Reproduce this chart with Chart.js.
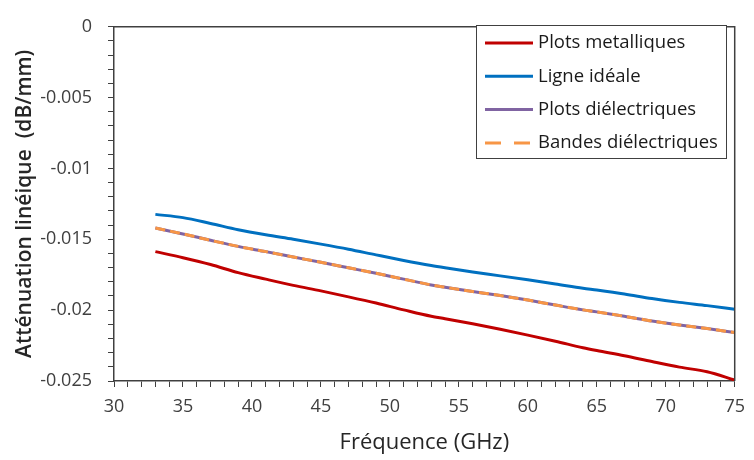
<!DOCTYPE html>
<html>
<head>
<meta charset="utf-8">
<script src="https://cdn.jsdelivr.net/npm/chart.js@4"></script>
<style>
    body { margin: 0; background: #fff; }
    #wrap { width: 754px; height: 460px; }
</style>
</head>
<body>
<div id="wrap"><canvas id="attChart" width="754" height="460"></canvas></div>
<script>
// Fréquence (GHz)
const freqs = [33, 35, 37, 39, 41, 43, 45, 47, 49, 51, 53, 54, 56, 58, 60, 62, 64, 65, 67, 69, 71, 73, 75];

// Atténuation linéique (dB/mm)
const plotsMetal = [-0.01587, -0.0163, -0.01678, -0.01735, -0.01781, -0.01825, -0.01864, -0.01906, -0.0195, -0.01998, -0.02043, -0.0206,
    -0.02096, -0.02135, -0.02176, -0.02219, -0.02265, -0.02285, -0.02322, -0.02363, -0.02402, -0.02435, -0.02493];
const ligneIdeale = [-0.01324, -0.01347, -0.01388, -0.01432, -0.01468, -0.015, -0.01534, -0.0157, -0.0161, -0.01649, -0.01685, -0.01701,
    -0.01731, -0.01758, -0.01786, -0.01815, -0.01845, -0.01858, -0.01886, -0.01918, -0.01945, -0.01968, -0.01993];
const plotsDiel = [-0.0142, -0.01462, -0.01507, -0.0155, -0.01587, -0.01625, -0.01662, -0.01701, -0.0174, -0.01781, -0.01822, -0.01838,
    -0.01868, -0.01897, -0.01929, -0.01964, -0.01998, -0.02012, -0.02043, -0.02077, -0.02105, -0.0213, -0.02158];
const bandesDiel = [-0.0142, -0.01462, -0.01507, -0.0155, -0.01587, -0.01625, -0.01662, -0.01701, -0.0174, -0.01781, -0.01822, -0.01838,
    -0.01868, -0.01897, -0.01929, -0.01964, -0.01998, -0.02012, -0.02043, -0.02077, -0.02105, -0.0213, -0.02158];

const xMin = 30, xMax = 75;
const yMin = -0.025, yMax = 0;

const FONT = "'Open Sans', sans-serif";
const AXIS_COLOR = '#404040';

function toPoints(values) {
    return values.map((v, i) => ({ x: freqs[i], y: v }));
}

// cadre du graphe + légende dessinée à la main (dans la zone de tracé)
const frameAndLegend = {
    id: 'frameAndLegend',
    afterDraw(chart) {
        const { ctx, chartArea } = chart;
        ctx.save();
        ctx.strokeStyle = AXIS_COLOR;
        ctx.lineWidth = 1.5;
        ctx.beginPath();
        ctx.moveTo(chartArea.left, chartArea.top);
        ctx.lineTo(chartArea.right, chartArea.top);
        ctx.lineTo(chartArea.right, chartArea.bottom);
        ctx.stroke();

        // légende
        const box = { x: 476, y: 25, w: 250, h: 133 };
        ctx.fillStyle = '#fff';
        ctx.fillRect(box.x, box.y, box.w, box.h);
        ctx.strokeStyle = '#404040';
        ctx.lineWidth = 1;
        ctx.strokeRect(box.x + 0.5, box.y + 0.5, box.w, box.h);

        ctx.font = '18.5px ' + FONT;
        ctx.textBaseline = 'middle';
        chart.data.datasets.forEach((ds, i) => {
            const y = 43 + i * 33.3;
            ctx.strokeStyle = ds.borderColor;
            ctx.lineWidth = 3;
            ctx.setLineDash(ds.borderDash && ds.borderDash.length ? [16, 13] : []);
            ctx.beginPath();
            ctx.moveTo(485, y);
            ctx.lineTo(533, y);
            ctx.stroke();
            ctx.setLineDash([]);
            ctx.fillStyle = '#1a1a1a';
            ctx.fillText(ds.label, 538, y);
        });
        ctx.restore();
    }
};

new Chart(document.getElementById('attChart').getContext('2d'), {
    type: 'line',
    data: {
        datasets: [
            {
                label: 'Plots metalliques',
                data: toPoints(plotsMetal),
                borderColor: '#C00000',
                borderWidth: 3,
                order: 3
            },
            {
                label: 'Ligne idéale',
                data: toPoints(ligneIdeale),
                borderColor: '#0070C0',
                borderWidth: 3,
                order: 2
            },
            {
                label: 'Plots diélectriques',
                data: toPoints(plotsDiel),
                borderColor: '#8064A2',
                borderWidth: 3,
                order: 1
            },
            {
                label: 'Bandes diélectriques',
                data: toPoints(bandesDiel),
                borderColor: '#F79646',
                borderWidth: 3,
                borderDash: [10, 5],
                order: 0
            }
        ]
    },
    options: {
        responsive: false,
        animation: false,
        layout: { padding: { top: 15, right: 13, left: 0, bottom: 0 } },
        elements: {
            point: { radius: 0 },
            line: { cubicInterpolationMode: 'monotone', fill: false }
        },
        plugins: {
            legend: { display: false },
            tooltip: { enabled: false }
        },
        scales: {
            x: {
                type: 'linear',
                min: xMin,
                max: xMax,
                afterFit(scale) { scale.height = 79; },
                border: { color: AXIS_COLOR, width: 1.5 },
                grid: { drawOnChartArea: false, color: AXIS_COLOR, tickLength: 6 },
                ticks: {
                    stepSize: 1,
                    maxTicksLimit: 100,
                    autoSkip: false,
                    maxRotation: 0,
                    padding: 9,
                    color: AXIS_COLOR,
                    font: { family: FONT, size: 18 },
                    callback: v => (Math.round(v) % 5 === 0 ? String(Math.round(v)) : '')
                },
                title: {
                    display: true,
                    text: 'Fréquence (GHz)',
                    color: '#262626',
                    font: { family: FONT, size: 22 },
                    padding: { top: 2 }
                }
            },
            y: {
                type: 'linear',
                min: yMin,
                max: yMax,
                afterFit(scale) { scale.width = 114; },
                border: { color: AXIS_COLOR, width: 1.5 },
                grid: { drawOnChartArea: false, color: AXIS_COLOR, tickLength: 6 },
                ticks: {
                    stepSize: 0.001,
                    maxTicksLimit: 100,
                    autoSkip: false,
                    padding: 16,
                    color: AXIS_COLOR,
                    font: { family: FONT, size: 18 },
                    callback: v => {
                        const m = Math.round(v * 1000);
                        if (m % 5 !== 0) return '';
                        return m === 0 ? '0' : String(parseFloat((m / 1000).toFixed(3)));
                    }
                },
                title: {
                    display: true,
                    text: 'Atténuation linéique  (dB/mm)',
                    color: '#262626',
                    font: { family: FONT, size: 21, weight: '600' },
                    padding: { top: 12, bottom: 0 }
                }
            }
        }
    },
    plugins: [frameAndLegend]
});
</script>
</body>
</html>
